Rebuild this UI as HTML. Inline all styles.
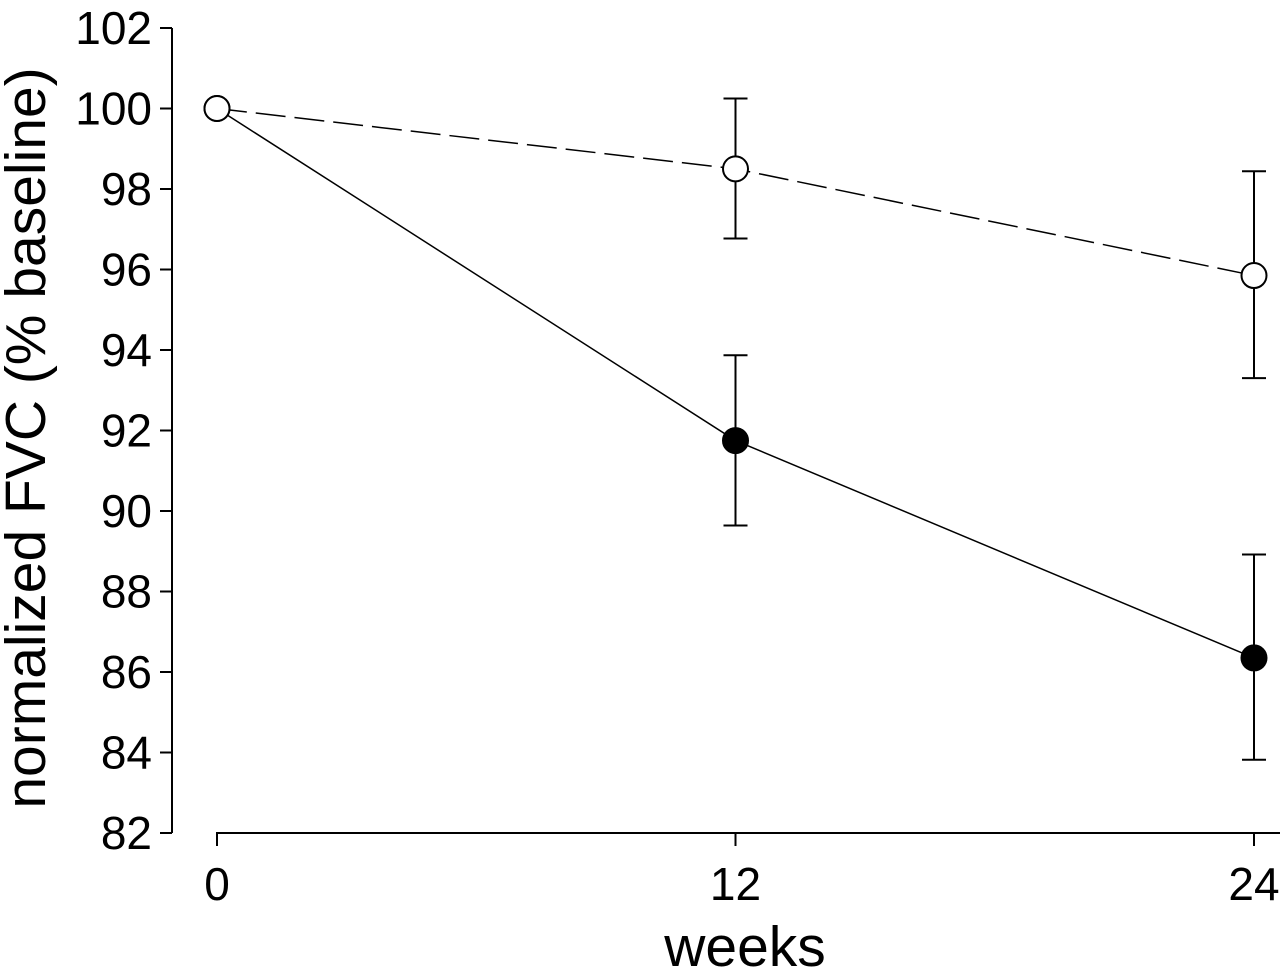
<!DOCTYPE html>
<html><head><meta charset="utf-8"><style>
html,body{margin:0;padding:0;background:#fff;}
svg{display:block;font-family:"Liberation Sans",Arial,sans-serif;}
</style></head><body>
<svg id="chart" width="1280" height="970" viewBox="0 0 1280 970"></svg>
<script>
const weeks = [0, 12, 24];
const yTicks = [82, 84, 86, 88, 90, 92, 94, 96, 98, 100, 102];
const placeboMean = [100, 98.5, 95.85];
const placeboUpper = [null, 100.25, 98.44];
const placeboLower = [null, 96.77, 93.3];
const treatedMean = [100, 91.75, 86.35];
const treatedUpper = [null, 93.87, 88.92];
const treatedLower = [null, 89.64, 83.82];

const NS = "http://www.w3.org/2000/svg";
const svg = document.getElementById('chart');
const X = v => 217 + (v / 24) * (1254 - 217);
const Y = v => 833 - (v - 82) / 20 * (833 - 28);
function mk(tag, attrs, parent) {
  const e = document.createElementNS(NS, tag);
  for (const k in attrs) e.setAttribute(k, attrs[k]);
  (parent || svg).appendChild(e);
  return e;
}
const ya = mk('line', {x1:172, y1:Y(82), x2:172, y2:Y(102), stroke:'#000', 'stroke-width':2});


yTicks.forEach(t => {
  const l = mk('line', {x1:160, y1:Y(t), x2:172, y2:Y(t), stroke:'#000', 'stroke-width':2});
  
  
  const tx = mk('text', {x:152, y:Y(t)+16, 'text-anchor':'end', 'font-size':46});
  tx.textContent = t;
  
  
});
const xa = mk('line', {x1:X(0)-1, y1:833, x2:1280, y2:833, stroke:'#000', 'stroke-width':2});


weeks.forEach(w => {
  const l = mk('line', {x1:X(w), y1:833, x2:X(w), y2:846, stroke:'#000', 'stroke-width':2});
  
  
  const tx = mk('text', {x:X(w), y:900, 'text-anchor':'middle', 'font-size':46});
  tx.textContent = w;
  
  
});
const xt = mk('text', {x:745, y:966, 'text-anchor':'middle', 'font-size':57});
xt.textContent = 'weeks';


const yt = mk('text', {x:0, y:0, 'text-anchor':'middle', 'font-size':57, transform:'translate(45,438) rotate(-90)'});
yt.textContent = 'normalized FVC (% baseline)';



function series(mean, up, lo, filled, dash, name) {
  const g = mk('g', {});
  
  
  const pts = mean.map((m,i) => X(weeks[i]) + ',' + Y(m)).join(' ');
  const pl = mk('polyline', {points:pts, fill:'none', stroke:'#000', 'stroke-width':1.5, 'stroke-dasharray':dash}, g);
  
  
  mean.forEach((m,i) => {
    if (up[i] != null) {
      const x = X(weeks[i]);
      const e = mk('path', {d:`M${x},${Y(up[i])}V${Y(lo[i])}M${x-12},${Y(up[i])}H${x+12}M${x-12},${Y(lo[i])}H${x+12}`, stroke:'#000', 'stroke-width':2, fill:'none'}, g);
      
      
    }
  });
  mean.forEach((m,i) => {
    const c = mk('circle', {cx:X(weeks[i]), cy:Y(m), r:12.5, fill: filled ? '#000' : '#fff', stroke:'#000', 'stroke-width':2}, g);
    
    
  });
}
series(treatedMean, treatedUpper, treatedLower, true, 'none', 'treated-series');
series(placeboMean, placeboUpper, placeboLower, false, '30 9', 'placebo-series');
</script>
</body></html>
